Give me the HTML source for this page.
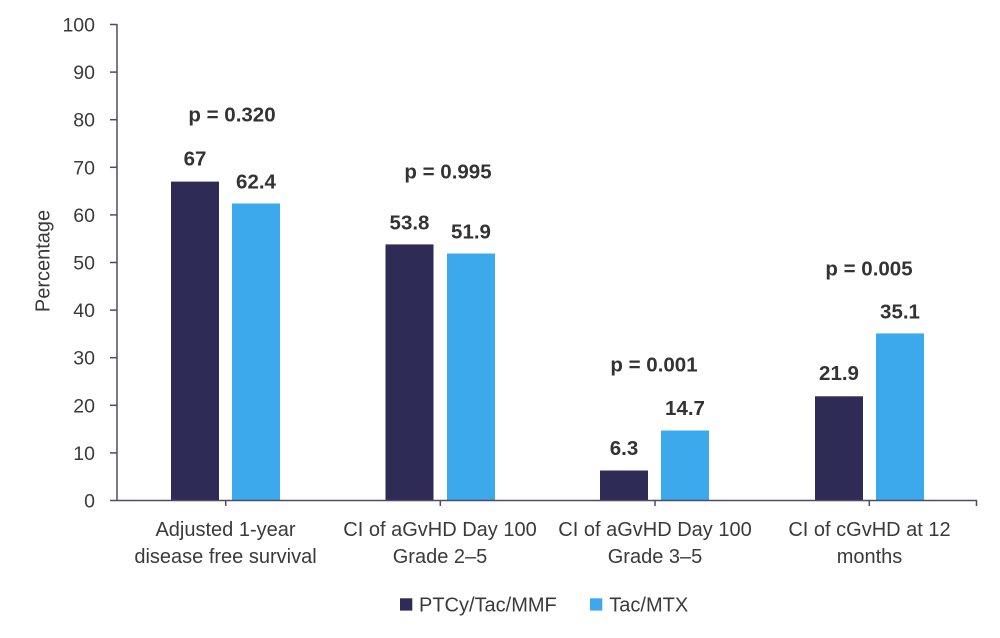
<!DOCTYPE html>
<html>
<head>
<meta charset="utf-8">
<style>
  html, body { margin: 0; padding: 0; background: #ffffff; }
  svg { display: block; }
  text { font-family: "Liberation Sans", Arial, sans-serif; fill: #3a3a3a; }
  .tick { font-size: 19.5px; text-anchor: end; }
  .cat { font-size: 20px; text-anchor: middle; }
  .val { font-size: 20.5px; font-weight: bold; text-anchor: middle; fill: #333333; }
  .leg { font-size: 20px; }
</style>
</head>
<body>
<svg width="1000" height="638" viewBox="0 0 1000 638" xmlns="http://www.w3.org/2000/svg">
  <rect width="1000" height="638" fill="#ffffff"/>

  <!-- Bars -->
  <g fill="#2e2b56">
    <rect x="171" y="181.6" width="48" height="318.9"/>
    <rect x="385.5" y="244.4" width="48" height="256.1"/>
    <rect x="600" y="470.5" width="48" height="30"/>
    <rect x="815" y="396.3" width="48" height="104.2"/>
  </g>
  <g fill="#3ba9ec">
    <rect x="232" y="203.5" width="48" height="297"/>
    <rect x="447" y="253.5" width="48" height="247"/>
    <rect x="661" y="430.5" width="48" height="70"/>
    <rect x="876" y="333.4" width="48" height="167.1"/>
  </g>

  <!-- Axes -->
  <g stroke="#4f4a68" stroke-width="1.5" fill="none">
    <line x1="117" y1="24" x2="117" y2="500.5"/>
    <line x1="117" y1="500.5" x2="977" y2="500.5"/>
    <!-- y ticks -->
    <line x1="110" y1="24.5" x2="117" y2="24.5"/>
    <line x1="110" y1="72.1" x2="117" y2="72.1"/>
    <line x1="110" y1="119.7" x2="117" y2="119.7"/>
    <line x1="110" y1="167.3" x2="117" y2="167.3"/>
    <line x1="110" y1="214.9" x2="117" y2="214.9"/>
    <line x1="110" y1="262.5" x2="117" y2="262.5"/>
    <line x1="110" y1="310.1" x2="117" y2="310.1"/>
    <line x1="110" y1="357.7" x2="117" y2="357.7"/>
    <line x1="110" y1="405.3" x2="117" y2="405.3"/>
    <line x1="110" y1="452.9" x2="117" y2="452.9"/>
    <line x1="110" y1="500.5" x2="117" y2="500.5"/>
    <!-- x ticks -->
    <line x1="225.7" y1="500.5" x2="225.7" y2="506"/>
    <line x1="440.3" y1="500.5" x2="440.3" y2="506"/>
    <line x1="655" y1="500.5" x2="655" y2="506"/>
    <line x1="869.3" y1="500.5" x2="869.3" y2="506"/>
    <line x1="976.5" y1="500.5" x2="976.5" y2="506"/>
  </g>

  <!-- Y tick labels -->
  <text class="tick" x="95" y="31.5">100</text>
  <text class="tick" x="95" y="79.1">90</text>
  <text class="tick" x="95" y="126.7">80</text>
  <text class="tick" x="95" y="174.3">70</text>
  <text class="tick" x="95" y="221.9">60</text>
  <text class="tick" x="95" y="269.5">50</text>
  <text class="tick" x="95" y="317.1">40</text>
  <text class="tick" x="95" y="364.7">30</text>
  <text class="tick" x="95" y="412.3">20</text>
  <text class="tick" x="95" y="459.9">10</text>
  <text class="tick" x="95" y="507.5">0</text>

  <!-- Y axis title -->
  <text x="0" y="0" font-size="20" text-anchor="middle" transform="translate(49.5,261) rotate(-90)">Percentage</text>

  <!-- Category labels -->
  <text class="cat" x="225.5" y="536">Adjusted 1-year</text>
  <text class="cat" x="225.5" y="563">disease free survival</text>
  <text class="cat" x="440" y="536">CI of aGvHD Day 100</text>
  <text class="cat" x="440" y="563">Grade 2–5</text>
  <text class="cat" x="655" y="536">CI of aGvHD Day 100</text>
  <text class="cat" x="655" y="563">Grade 3–5</text>
  <text class="cat" x="869.5" y="536">CI of cGvHD at 12</text>
  <text class="cat" x="869.5" y="563">months</text>

  <!-- Value labels -->
  <text class="val" x="195" y="165.7">67</text>
  <text class="val" x="256" y="188.3">62.4</text>
  <text class="val" x="409.5" y="229.3">53.8</text>
  <text class="val" x="471" y="238.3">51.9</text>
  <text class="val" x="624" y="455">6.3</text>
  <text class="val" x="685" y="415">14.7</text>
  <text class="val" x="839" y="380">21.9</text>
  <text class="val" x="900" y="318.3">35.1</text>

  <!-- p values -->
  <text class="val" x="232" y="121.7">p = 0.320</text>
  <text class="val" x="448" y="178.3">p = 0.995</text>
  <text class="val" x="654" y="371.7">p = 0.001</text>
  <text class="val" x="869" y="275.7">p = 0.005</text>

  <!-- Legend -->
  <rect x="400" y="598.3" width="12.3" height="12.3" fill="#2e2b56"/>
  <text class="leg" x="419" y="611.5">PTCy/Tac/MMF</text>
  <rect x="590" y="598.3" width="12.3" height="12.3" fill="#3ba9ec"/>
  <text class="leg" x="609.3" y="611.5">Tac/MTX</text>
</svg>
</body>
</html>
